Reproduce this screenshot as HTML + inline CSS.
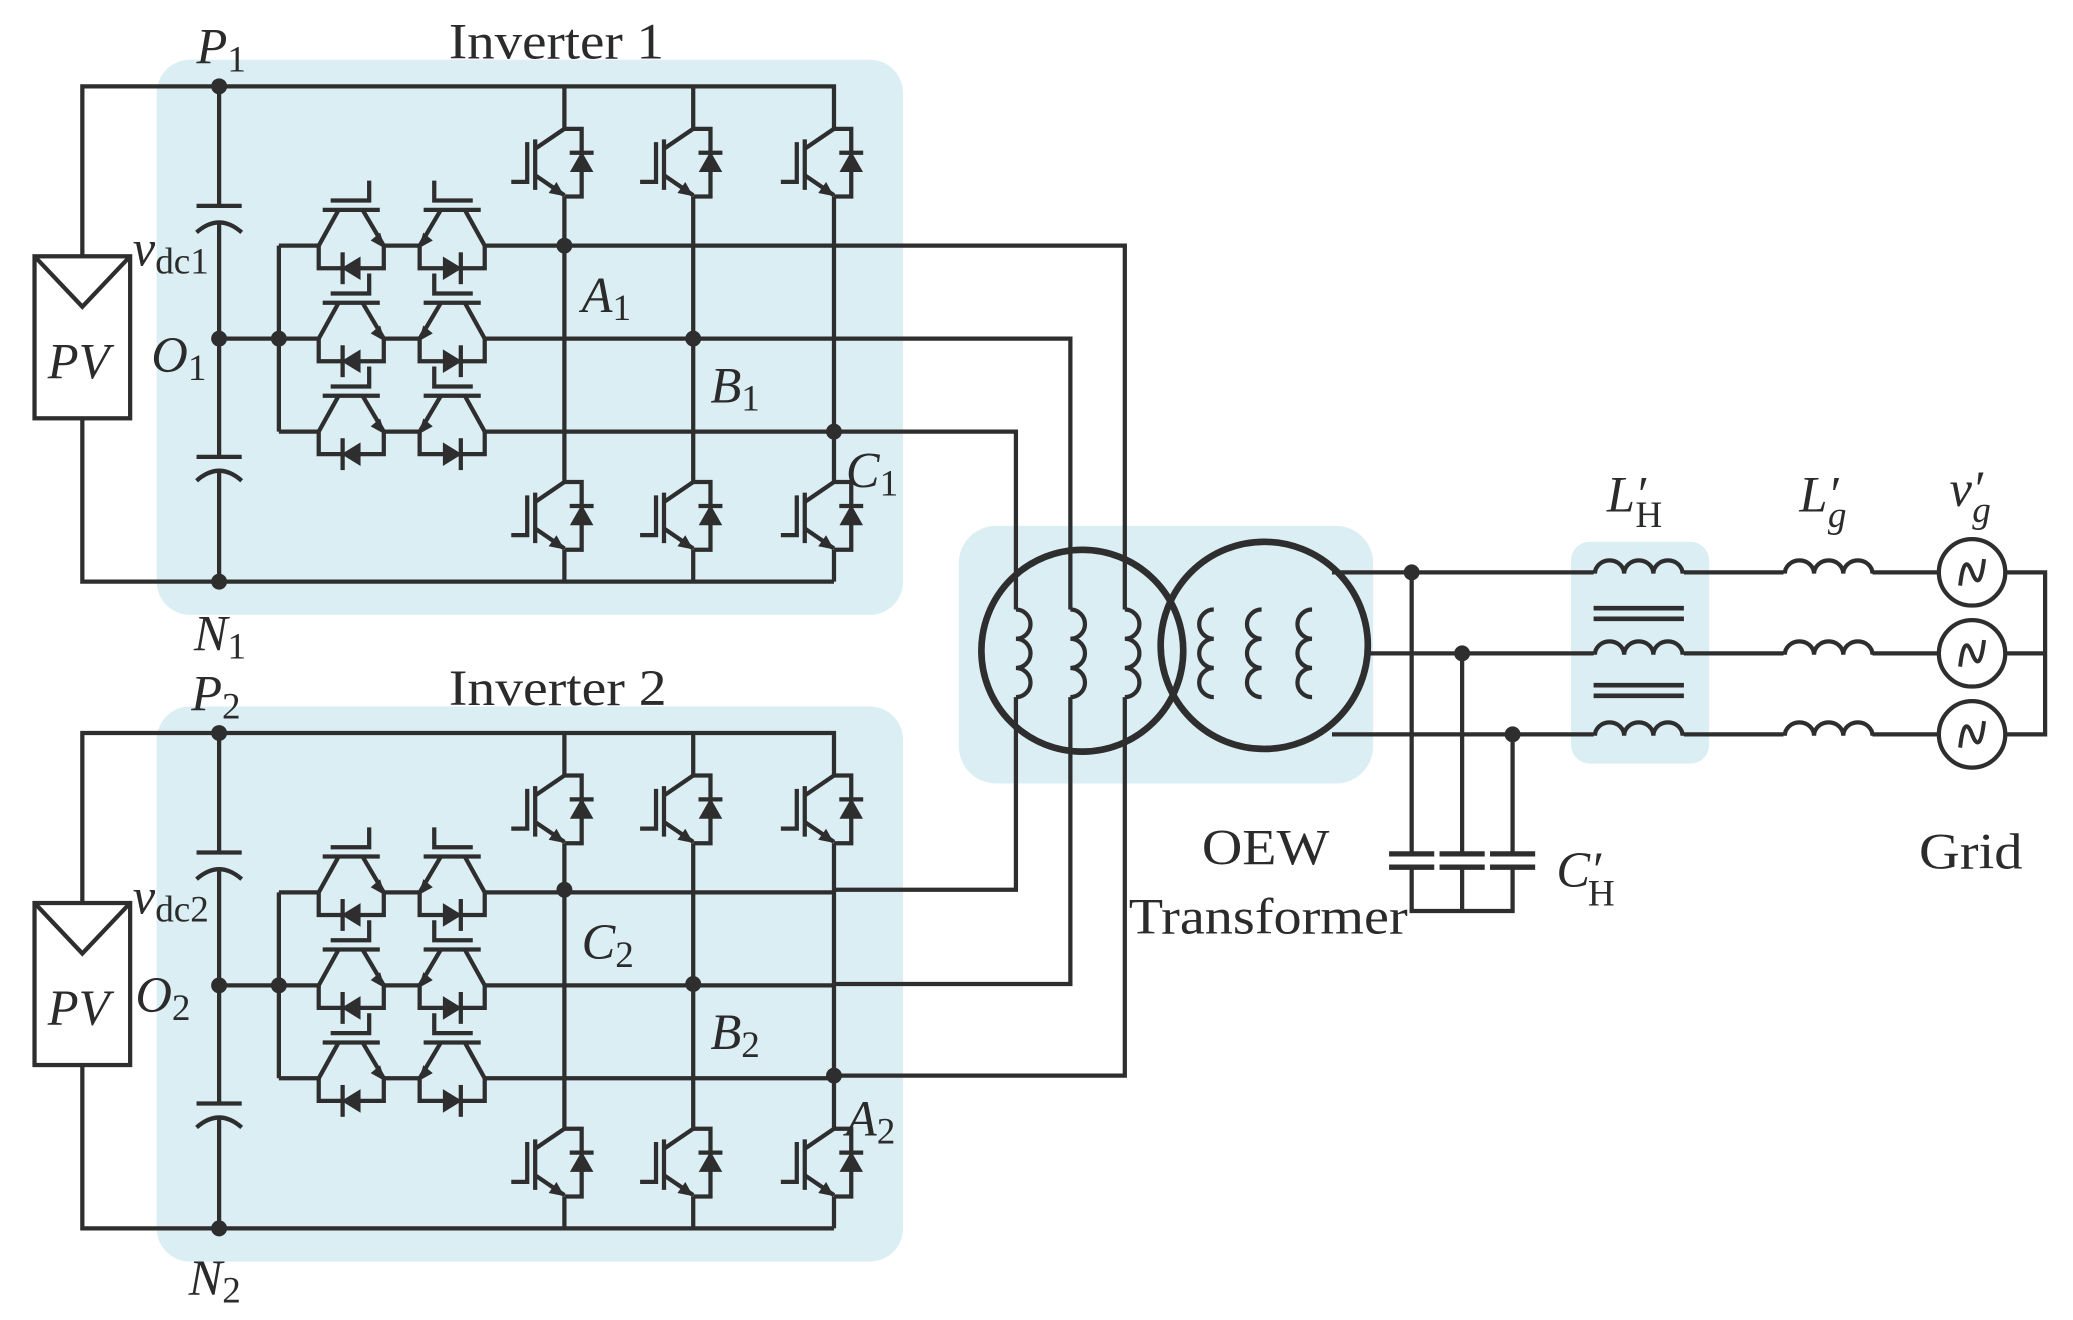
<!DOCTYPE html>
<html><head><meta charset="utf-8"><style>
html,body{margin:0;padding:0;background:#fff;}
svg{display:block;}
text{font-family:"Liberation Serif",serif;fill:#2b2b2b;}
</style></head><body>
<svg width="2073" height="1320" viewBox="0 0 1561 994" preserveAspectRatio="none" xmlns="http://www.w3.org/2000/svg">
<defs>
<g id="ig" fill="none" stroke="#2e2e2e" stroke-width="3.2">
  <path d="M0,0 H13 V51 H0"/>
  <path d="M0,0 L-22,15"/>
  <path d="M-22,8 V46"/>
  <path d="M-28,10 V40 H-40"/>
  <path d="M-22,35 L0,50"/>
  <path d="M-1,50 L-11,48 L-6,41 Z" fill="#2e2e2e" stroke-width="1"/>
  <path d="M4,18 H22"/>
  <path d="M13,18 L5,32 L21,32 Z" fill="#2e2e2e" stroke-width="1"/>
</g>
<g id="bs" fill="none" stroke="#2e2e2e" stroke-width="3.2">
  <path d="M0,0 L15,-27"/>
  <path d="M33,-27 L49,0"/>
  <path d="M3,-27 H46"/>
  <path d="M9,-34 H38 V-49"/>
  <path d="M0,0 V17 H49 V0"/>
  <path d="M18,5 V29"/>
  <path d="M18,17 L31,9 L31,25 Z" fill="#2e2e2e" stroke-width="1"/>
  <path d="M49,1 L40,-4 L46,-9 Z" fill="#2e2e2e" stroke-width="1"/>
</g>
<g id="inv">
  <rect x="118" y="45" width="562" height="418" rx="25" fill="#dbeef4"/>
  <g fill="none" stroke="#2e2e2e" stroke-width="3.2">
    <path d="M62,192 V65 H628 V97"/>
    <path d="M62,315 V438 H628"/>
    <rect x="26" y="193" width="72" height="122"/>
    <path d="M26,193 L62,231 L98,193"/>
    <path d="M165,65 V155 M148,155 H182 M148,175 Q165,160 182,175 M165,166 V344 M148,344 H182 M148,362 Q165,347 182,362 M165,354 V438"/>
    <path d="M165,255 H210 M210,185 V325"/>
    <path d="M425,65 V97 M425,148 V363 M425,414 V438"/>
    <path d="M522,65 V97 M522,148 V363 M522,414 V438"/>
    <path d="M628,148 V363 M628,414 V438"/>
    <path d="M210,185 H240 M289,185 H316 M365,185 H628"/>
    <path d="M210,255 H240 M289,255 H316 M365,255 H628"/>
    <path d="M210,325 H240 M289,325 H316 M365,325 H628"/>
  </g>
  <use href="#ig" x="425" y="97"/><use href="#ig" x="522" y="97"/><use href="#ig" x="628" y="97"/>
  <use href="#ig" x="425" y="363"/><use href="#ig" x="522" y="363"/><use href="#ig" x="628" y="363"/>
  <use href="#bs" transform="translate(240,185)"/><use href="#bs" transform="translate(365,185) scale(-1,1)"/>
  <use href="#bs" transform="translate(240,255)"/><use href="#bs" transform="translate(365,255) scale(-1,1)"/>
  <use href="#bs" transform="translate(240,325)"/><use href="#bs" transform="translate(365,325) scale(-1,1)"/>
  <g fill="#2e2e2e">
    <circle cx="165" cy="65" r="6"/><circle cx="165" cy="438" r="6"/>
    <circle cx="165" cy="255" r="6"/><circle cx="210" cy="255" r="6"/>
  </g>
</g>
<path id="coilR" d="M0,0 a11,11 0 0 1 0,22 a11,11 0 0 1 0,22 a11,11 0 0 1 0,22" fill="none" stroke="#2e2e2e" stroke-width="3.2"/>
<path id="coilH" d="M0,0 a11,10 0 0 1 22,0 a11,10 0 0 1 22,0 a11,10 0 0 1 22,0" fill="none" stroke="#2e2e2e" stroke-width="3.2"/>
<g id="src"><circle r="25" fill="none" stroke="#2e2e2e" stroke-width="3.2"/><path d="M-9,10 Q-6,-16 0,0 T9,-10" fill="none" stroke="#2e2e2e" stroke-width="3"/></g>
</defs>

<use href="#inv"/>
<use href="#inv" transform="translate(0,487)"/>
<g fill="#2e2e2e">
  <circle cx="425" cy="185" r="6"/><circle cx="522" cy="255" r="6"/><circle cx="628" cy="325" r="6"/>
  <circle cx="425" cy="670" r="6"/><circle cx="522" cy="741" r="6"/><circle cx="628" cy="810" r="6"/>
</g>

<rect x="722" y="396" width="312" height="194" rx="28" fill="#dbeef4"/>
<rect x="1183" y="408" width="104" height="167" rx="14" fill="#dbeef4"/>

<g fill="none" stroke="#2e2e2e" stroke-width="3.2">
  <path d="M628,185 H847 V459 M847,525 V810 H628"/>
  <path d="M628,255 H806 V459 M806,525 V741 H628"/>
  <path d="M628,325 H765 V459 M765,525 V670 H628"/>
  <path d="M1003,431 H1200 M1268,431 H1343 M1410,431 H1460"/>
  <path d="M1030,492 H1200 M1268,492 H1343 M1410,492 H1460"/>
  <path d="M1003,553 H1200 M1268,553 H1343 M1410,553 H1460"/>
  <path d="M1510,431 H1540 V553 H1510 M1510,492 H1540"/>
  <path d="M1063,431 V643 M1063,653 V686 H1139 V653 M1139,643 V553 M1101,492 V643 M1101,653 V686"/>
  <path d="M1046,643 H1080 M1084,643 H1118 M1122,643 H1156 M1046,653 H1080 M1084,653 H1118 M1122,653 H1156" stroke-width="4"/>
  <path d="M1200,458 H1268 M1200,466 H1268 M1200,516 H1268 M1200,524 H1268" stroke-width="3.5"/>
</g>
<g fill="#2e2e2e"><circle cx="1063" cy="431" r="6"/><circle cx="1101" cy="492" r="6"/><circle cx="1139" cy="553" r="6"/></g>
<circle cx="815" cy="490" r="76" fill="none" stroke="#2e2e2e" stroke-width="5"/>
<circle cx="952" cy="486" r="78" fill="none" stroke="#2e2e2e" stroke-width="5"/>
<use href="#coilR" x="765" y="459"/><use href="#coilR" x="806" y="459"/><use href="#coilR" x="847" y="459"/>
<use href="#coilR" transform="translate(914,459) scale(-1,1)"/><use href="#coilR" transform="translate(950,459) scale(-1,1)"/><use href="#coilR" transform="translate(988,459) scale(-1,1)"/>
<use href="#coilH" x="1201" y="432"/><use href="#coilH" x="1201" y="493"/><use href="#coilH" x="1201" y="554"/>
<use href="#coilH" x="1344" y="432"/><use href="#coilH" x="1344" y="493"/><use href="#coilH" x="1344" y="554"/>
<use href="#src" x="1485" y="431"/><use href="#src" x="1485" y="492"/><use href="#src" x="1485" y="553"/>

<g font-size="38">
  <text x="338" y="44" textLength="162" lengthAdjust="spacingAndGlyphs">Inverter 1</text>
  <text x="338" y="531" textLength="164" lengthAdjust="spacingAndGlyphs">Inverter 2</text>
  <text x="905" y="651" textLength="96" lengthAdjust="spacingAndGlyphs">OEW</text>
  <text x="850" y="703" textLength="210" lengthAdjust="spacingAndGlyphs">Transformer</text>
  <text x="1445" y="654" textLength="78" lengthAdjust="spacingAndGlyphs">Grid</text>
</g>
<g font-size="38" font-style="italic">
  <text x="148" y="48">P<tspan font-size="28" font-style="normal" dy="6">1</tspan></text>
  <text x="144" y="535">P<tspan font-size="28" font-style="normal" dy="6">2</tspan></text>
  <text x="146" y="490">N<tspan font-size="28" font-style="normal" dy="6">1</tspan></text>
  <text x="142" y="975">N<tspan font-size="28" font-style="normal" dy="6">2</tspan></text>
  <text x="100" y="200">v<tspan font-size="28" font-style="normal" dy="6">dc1</tspan></text>
  <text x="100" y="688">v<tspan font-size="28" font-style="normal" dy="6">dc2</tspan></text>
  <text x="114" y="280">O<tspan font-size="28" font-style="normal" dy="6">1</tspan></text>
  <text x="102" y="762">O<tspan font-size="28" font-style="normal" dy="6">2</tspan></text>
  <text x="36" y="285">PV</text>
  <text x="36" y="772">PV</text>
  <text x="438" y="235">A<tspan font-size="28" font-style="normal" dy="6">1</tspan></text>
  <text x="535" y="303">B<tspan font-size="28" font-style="normal" dy="6">1</tspan></text>
  <text x="637" y="367">C<tspan font-size="28" font-style="normal" dy="6">1</tspan></text>
  <text x="438" y="722">C<tspan font-size="28" font-style="normal" dy="6">2</tspan></text>
  <text x="535" y="790">B<tspan font-size="28" font-style="normal" dy="6">2</tspan></text>
  <text x="637" y="855">A<tspan font-size="28" font-style="normal" dy="6">2</tspan></text>
  <text x="1172" y="668">C′<tspan font-size="28" font-style="normal" dx="-10" dy="14">H</tspan></text>
  <text x="1210" y="385">L′<tspan font-size="28" font-style="normal" dx="-8" dy="12">H</tspan></text>
  <text x="1355" y="385">L′<tspan font-size="28" dx="-8" dy="12">g</tspan></text>
  <text x="1468" y="381">v′<tspan font-size="28" dx="-8" dy="12">g</tspan></text>
</g>
</svg>
</body></html>
